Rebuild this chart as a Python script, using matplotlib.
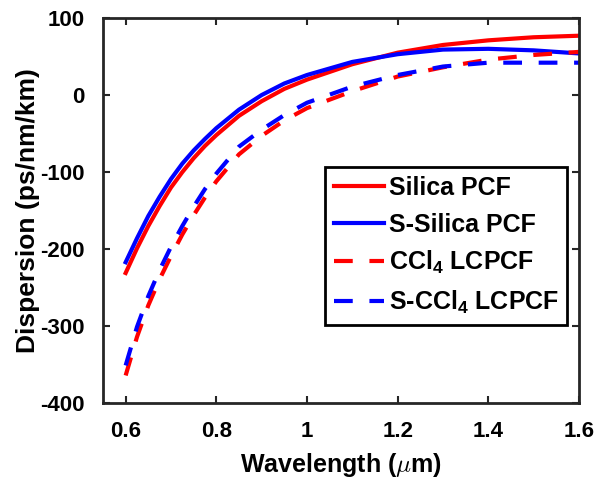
import matplotlib.pyplot as plt

plt.rcParams['font.family'] = ['Liberation Sans', 'DejaVu Sans']
plt.rcParams['axes.unicode_minus'] = False
plt.rcParams['mathtext.fontset'] = 'custom'
plt.rcParams['mathtext.rm'] = 'Liberation Sans:bold'
plt.rcParams['mathtext.it'] = 'Liberation Sans:italic:bold'

# wavelength (um)
wl = [0.6, 0.625, 0.65, 0.675, 0.7, 0.725, 0.75, 0.775, 0.8,
      0.85, 0.9, 0.95, 1.0, 1.1, 1.2, 1.3, 1.4, 1.5, 1.6]

# dispersion (ps/nm/km)
silica = [-231, -199, -170, -144, -120, -100, -82, -66, -52,
          -27, -8, 8, 20, 40, 55, 65, 71, 75, 77]
s_silica = [-217, -186, -157, -132, -109, -89, -72, -57, -43,
            -19, 0, 15, 26, 43, 53, 59, 60, 58, 54]
ccl4 = [-364, -314, -273, -239, -209, -181, -156, -133, -112,
        -77, -53, -33, -17, 5, 24, 36, 46, 52, 56]
s_ccl4 = [-351, -301, -261, -227, -197, -170, -145, -122, -102,
          -67, -45, -26, -10, 11, 26, 37, 42, 42, 42]

labels = ['Silica PCF', 'S-Silica PCF', r'CCl$_4$ LCPCF', r'S-CCl$_4$ LCPCF']


def main():
    fig = plt.figure(figsize=(6.13, 4.8), dpi=100)
    ax = fig.add_axes([0.168, 0.160, 0.7765, 0.8025])

    dash = (0, (4.5, 4.0))
    ax.plot(wl, silica, color='#ff0000', lw=3, label=labels[0])
    ax.plot(wl, s_silica, color='#0000ff', lw=3, label=labels[1])
    ax.plot(wl, ccl4, color='#ff0000', lw=3, ls=dash, label=labels[2])
    ax.plot(wl, s_ccl4, color='#0000ff', lw=3, ls=dash, label=labels[3])

    ax.set_xlim(0.55, 1.6)
    ax.set_ylim(-400, 100)
    ax.set_xticks([0.6, 0.8, 1.0, 1.2, 1.4, 1.6])
    ax.set_xticklabels(['0.6', '0.8', '1', '1.2', '1.4', '1.6'])
    ax.set_yticks([-400, -300, -200, -100, 0, 100])

    ax.tick_params(direction='in', top=True, right=True, length=5, width=1.5,
                   colors='#262626', labelsize=16, pad=13)
    for t in ax.get_xticklabels() + ax.get_yticklabels():
        t.set_fontweight('bold')
        t.set_color('black')
    for s in ax.spines.values():
        s.set_linewidth(2)
        s.set_color('#262626')

    xl = ax.set_xlabel(r'Wavelength ($\mu$m)', fontsize=18, fontweight='bold', labelpad=6)
    xl.set_math_fontfamily('cm')
    ax.set_ylabel('Dispersion (ps/nm/km)', fontsize=19, fontweight='bold', labelpad=0)

    leg = ax.legend(loc='upper left', bbox_to_anchor=(0.466, 0.612), fancybox=False,
                    edgecolor='black', framealpha=1, handlelength=2.0,
                    handletextpad=0.2, borderaxespad=0, borderpad=0.35,
                    labelspacing=0.5, prop={'size': 18, 'weight': 'bold'})
    leg.get_frame().set_linewidth(2)

    fig.savefig('out.png', dpi=100)


if __name__ == "__main__":
    main()
